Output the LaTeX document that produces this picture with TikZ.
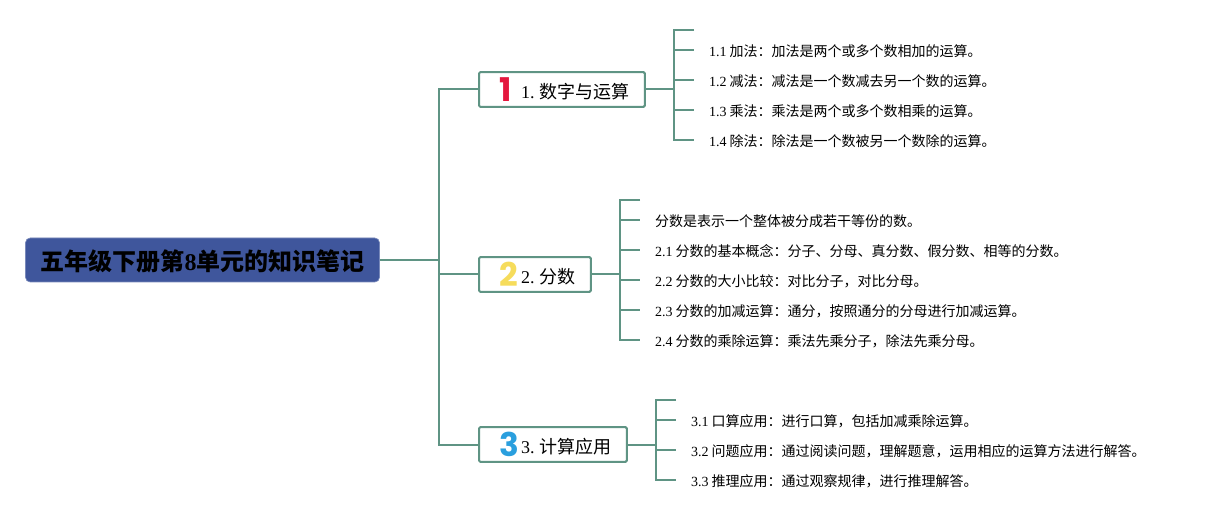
\documentclass[tikz,border=0pt]{standalone}
\usepackage{fontspec}
\usepackage{xcolor}
\setmainfont{Noto Sans CJK SC}
\newfontfamily\latinfont{Liberation Serif}
\newfontfamily\iconfont{Poppins}
\usetikzlibrary{positioning}
\definecolor{linegreen}{HTML}{5F9484}
\definecolor{rootblue}{HTML}{3F569C}
\definecolor{iconred}{HTML}{E4173E}
\definecolor{iconyellow}{HTML}{F6DC5B}
\definecolor{iconblue}{HTML}{2A9FDE}
\newcommand{\nm}[1]{{\latinfont #1}}
\newcommand{\ico}[2]{\makebox[20.25pt][l]{\hspace{4pt}\smash{\raisebox{-2.5pt}{\iconfont\bfseries\fontsize{24.5}{24.5}\selectfont\color{#1}#2}}}}

\begin{document}
\begin{tikzpicture}[x=0.75pt,y=-0.75pt,
    root/.style={fill=rootblue,draw=rootblue!70!white,line width=0.5pt,rounded corners=3.5pt,outer sep=0pt,minimum height=33pt,inner xsep=11.25pt,inner ysep=0pt,text height=20pt,text depth=4pt,font=\fontsize{18}{18}\selectfont\bfseries},
    branch/.style={draw=linegreen,line width=1.5pt,rounded corners=1pt,fill=white,outer sep=0pt,minimum height=26pt,inner xsep=11.25pt,inner ysep=0pt,text height=16.5pt,text depth=3.5pt,font=\fontsize{13.5}{13.5}\selectfont},
    leaf/.style={outer sep=0pt,minimum height=22.5pt,inner xsep=11.25pt,inner ysep=0pt,text height=12pt,text depth=2.5pt,font=\fontsize{10.5}{10.5}\selectfont},
    link/.style={draw=linegreen,line width=1.5pt}]
  \useasboundingbox (0,0) rectangle (1206,520);
  \node[root,anchor=west] (root) at (25.5,260) {五年级下册第\nm{8}单元的知识笔记};
  \node[branch,anchor=west] (b1) at (479,89.5) {\ico{iconred}{1}\nm{1.} 数字与运算};
  \node[branch,anchor=west] (b2) at (479,274.5) {\ico{iconyellow}{2}\nm{2.} 分数};
  \node[branch,anchor=west] (b3) at (479,444.5) {\ico{iconblue}{3}\nm{3.} 计算应用};
  % first group
  \coordinate (tipa) at (694,30);
  \coordinate (spinea) at (674,30);
  \node[leaf,anchor=west] (l11) at (694,50) {\nm{1.1} 加法：加法是两个或多个数相加的运算。};
  \node[leaf,below=0pt of l11.south west,anchor=north west] (l12) {\nm{1.2} 减法：减法是一个数减去另一个数的运算。};
  \node[leaf,below=0pt of l12.south west,anchor=north west] (l13) {\nm{1.3} 乘法：乘法是两个或多个数相乘的运算。};
  \node[leaf,below=0pt of l13.south west,anchor=north west] (l14) {\nm{1.4} 除法：除法是一个数被另一个数除的运算。};
  % second group
  \coordinate (tipb) at (640,200);
  \coordinate (spineb) at (620,200);
  \node[leaf,anchor=west] (l20) at (640,220) {分数是表示一个整体被分成若干等份的数。};
  \node[leaf,below=0pt of l20.south west,anchor=north west] (l21) {\nm{2.1} 分数的基本概念：分子、分母、真分数、假分数、相等的分数。};
  \node[leaf,below=0pt of l21.south west,anchor=north west] (l22) {\nm{2.2} 分数的大小比较：对比分子，对比分母。};
  \node[leaf,below=0pt of l22.south west,anchor=north west] (l23) {\nm{2.3} 分数的加减运算：通分，按照通分的分母进行加减运算。};
  \node[leaf,below=0pt of l23.south west,anchor=north west] (l24) {\nm{2.4} 分数的乘除运算：乘法先乘分子，除法先乘分母。};
  % third group
  \coordinate (tipc) at (676,400);
  \coordinate (spinec) at (656,400);
  \node[leaf,anchor=west] (l31) at (676,420) {\nm{3.1} 口算应用：进行口算，包括加减乘除运算。};
  \node[leaf,below=0pt of l31.south west,anchor=north west] (l32) {\nm{3.2} 问题应用：通过阅读问题，理解题意，运用相应的运算方法进行解答。};
  \node[leaf,below=0pt of l32.south west,anchor=north west] (l33) {\nm{3.3} 推理应用：通过观察规律，进行推理解答。};
  % connectors
  \coordinate (trunk) at (439,260);
  \draw[link] (root.east) -- (trunk);
  \draw[link] (b1.west) -| (trunk) |- (b3.west);
  \draw[link] (trunk |- b2.west) -- (b2.west);
  \draw[link] (b1.east) -- (spinea |- b1.east);
  \draw[link] (tipa) -- (spinea) |- (l14.west);
  \foreach \n in {l11,l12,l13} \draw[link] (spinea |- \n.west) -- (\n.west);
  \draw[link] (b2.east) -- (spineb |- b2.east);
  \draw[link] (tipb) -- (spineb) |- (l24.west);
  \foreach \n in {l20,l21,l22,l23} \draw[link] (spineb |- \n.west) -- (\n.west);
  \draw[link] (b3.east) -- (spinec |- b3.east);
  \draw[link] (tipc) -- (spinec) |- (l33.west);
  \foreach \n in {l31,l32} \draw[link] (spinec |- \n.west) -- (\n.west);
\end{tikzpicture}
\end{document}
